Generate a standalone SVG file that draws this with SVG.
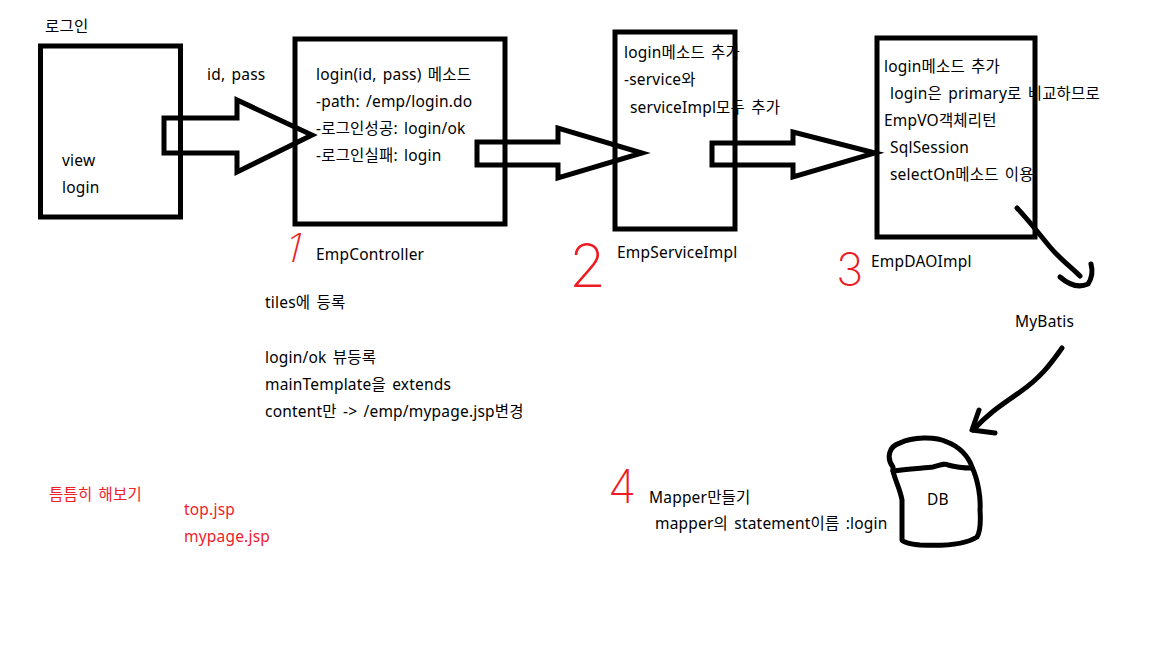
<svg xmlns="http://www.w3.org/2000/svg" width="1152" height="648" viewBox="0 0 1152 648">
<style>
  text { font-family: "Noto Sans", "Noto Sans CJK KR", sans-serif; font-size: 15.5px; letter-spacing: 0.2px; word-spacing: 2px; fill: #000; }
  .red { fill: #f0202a; }
  .num { font-family: "Inter", "Lato", "Liberation Sans", sans-serif; font-weight: 200; fill: #ed1c24; letter-spacing: 0; }
  .box { fill: none; stroke: #000; stroke-width: 5; }
  .arrow { fill: none; stroke: #000; stroke-width: 5; stroke-linejoin: miter; }
  .hand { fill: none; stroke: #000; stroke-width: 5; stroke-linecap: round; stroke-linejoin: round; }
</style>
<rect width="1152" height="648" fill="#fff"/>

<g id="node-login-view">
  <text x="45" y="32">로그인</text>
  <text x="62" y="166">view</text>
  <text x="62" y="193">login</text>
  <rect class="box" x="40.5" y="46" width="140" height="171"/>
</g>

<g id="node-empcontroller">
  <text x="316" y="80">login(id, pass) 메소드</text>
  <text x="316" y="107">-path: /emp/login.do</text>
  <text x="316" y="134">-로그인성공: login/ok</text>
  <text x="316" y="161">-로그인실패: login</text>
  <rect class="box" x="295" y="39" width="210" height="185"/>
  <text x="316" y="260">EmpController</text>
  <text class="num" x="0" y="0" style="font-size:40px" transform="translate(283,262) skewX(-14)">1</text>
</g>

<g id="node-empserviceimpl">
  <text x="624" y="58">login메소드 추가</text>
  <text x="624" y="85">-service와</text>
  <text x="630" y="113">serviceImpl모두 추가</text>
  <rect class="box" x="615" y="32" width="120" height="197"/>
  <text x="617" y="258">EmpServiceImpl</text>
  <text class="num" x="569" y="287" style="font-size:60px">2</text>
</g>

<g id="node-empdaoimpl">
  <text x="884" y="72">login메소드 추가</text>
  <text x="890" y="99">login은 primary로 비교하므로</text>
  <text x="884" y="126">EmpVO객체리턴</text>
  <text x="890" y="153">SqlSession</text>
  <text x="890" y="180">selectOn메소드 이용</text>
  <rect class="box" x="877" y="38" width="158" height="199"/>
  <text x="871" y="267">EmpDAOImpl</text>
  <text class="num" x="836" y="286" style="font-size:46px">3</text>
</g>

<g id="node-mybatis">
  <text x="1015" y="327">MyBatis</text>
</g>

<g id="node-db">
  <path class="hand" d="M893,467 C886,458 889,446 900,443 C912,437 935,436 947,442 C958,446 968,455 972,467 C978,480 981,498 980,510 C981,524 980,532 977,537 C965,545 940,546 920,545 C910,544 902,542 902,540 L902,500 C900,489 895,480 893,471 Z"/>
  <path class="hand" d="M893,471 C905,469 925,468 933,467 C940,465 945,463 948,465 C955,467 965,468 972,468"/>
  <text x="927" y="505">DB</text>
</g>

<g id="node-tiles-notes">
  <text x="265" y="308">tiles에 등록</text>
  <text x="265" y="363">login/ok 뷰등록</text>
  <text x="265" y="390">mainTemplate을 extends</text>
  <text x="265" y="417">content만 -&gt; /emp/mypage.jsp변경</text>
</g>

<g id="node-todo">
  <text class="red" x="49" y="500">틈틈히 해보기</text>
  <text class="red" x="184" y="515">top.jsp</text>
  <text class="red" x="184" y="542">mypage.jsp</text>
</g>

<g id="node-mapper">
  <text class="num" x="608" y="503" style="font-size:46px">4</text>
  <text x="649" y="503">Mapper만들기</text>
  <text x="655" y="529">mapper의 statement이름 :login</text>
</g>

<g id="connectors">
  <path class="arrow" d="M164,118 H237 V100 L312,135 L237,172 V153 H164 Z"/>
  <path class="arrow" d="M477,142 H558 V128 L642,153 L558,178 V165 H477 Z"/>
  <path class="arrow" d="M712,143 H793 V132 L875,153 L793,177 V165 H712 Z"/>
  <path class="hand" d="M1017,208 C1030,222 1040,235 1050,247 S1072,268 1080,276"/>
  <path class="hand" d="M1060,277 Q1075,290 1088,284 Q1094,275 1091,264"/>
  <path class="hand" d="M1062,348 C1050,365 1040,378 1020,392 S990,412 973,430"/>
  <path class="hand" d="M979,410 L972,430 L995,433"/>
</g>
<text x="207" y="80">id, pass</text>
</svg>
